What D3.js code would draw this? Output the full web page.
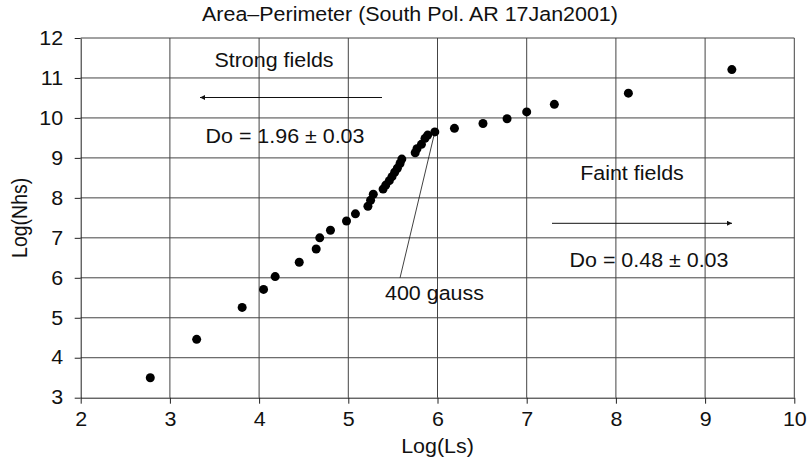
<!DOCTYPE html>
<html>
<head>
<meta charset="utf-8">
<script src="https://cdn.jsdelivr.net/npm/d3@7"></script>
<style>
  body { margin: 0; background: #fff; }
  text { font-family: "Liberation Sans", Arial, sans-serif; fill: #111; }
</style>
</head>
<body>
<script>
const width = 809, height = 464;

// Log(Ls) and Log(Nhs)
const logLs  = [2.78, 3.30, 3.81, 4.05, 4.18, 4.45, 4.64, 4.68, 4.80, 4.98,
                5.08, 5.22, 5.25, 5.28, 5.39, 5.42, 5.46, 5.49, 5.52, 5.55,
                5.58, 5.60, 5.75, 5.77, 5.82, 5.86, 5.89, 5.97, 6.19, 6.51,
                6.78, 7.00, 7.31, 8.14, 9.30];
const logNhs = [3.50, 4.46, 5.26, 5.71, 6.03, 6.39, 6.72, 7.00, 7.19, 7.42,
                7.60, 7.79, 7.94, 8.09, 8.22, 8.32, 8.43, 8.53, 8.64, 8.74,
                8.86, 8.97, 9.13, 9.23, 9.34, 9.49, 9.57, 9.65, 9.74, 9.86,
                9.98, 10.15, 10.34, 10.62, 11.21];
const xTicks = [2, 3, 4, 5, 6, 7, 8, 9, 10];
const yTicks = [3, 4, 5, 6, 7, 8, 9, 10, 11, 12];

const fs = 19.5;
const stretch = 1.1;   // the text in the picture is a bit wide

const svg = d3.select('body').append('svg')
  .attr('width', width)
  .attr('height', height);

const x = d3.scaleLinear().domain([2, 10]).range([80.7, 794.3]);
const y = d3.scaleLinear().domain([3, 12]).range([397.7, 38]);

// grid
svg.append('g')
  .selectAll('line')
  .data(xTicks.slice(1))
  .join('line')
  .attr('x1', d => x(d)).attr('x2', d => x(d))
  .attr('y1', y(12)).attr('y2', y(3))
  .attr('stroke', '#444').attr('stroke-width', 1);

svg.append('g')
  .selectAll('line')
  .data(yTicks.slice(1))
  .join('line')
  .attr('x1', x(2)).attr('x2', x(10))
  .attr('y1', d => y(d)).attr('y2', d => y(d))
  .attr('stroke', '#444').attr('stroke-width', 1);

// axes
const xAxis = svg.append('g')
  .attr('transform', `translate(0,${y(3)})`)
  .call(d3.axisBottom(x).tickValues(xTicks).tickSize(6).tickSizeOuter(0));
const yAxis = svg.append('g')
  .attr('transform', `translate(${x(2)},0)`)
  .call(d3.axisLeft(y).tickValues(yTicks).tickSize(6).tickSizeOuter(0));

[xAxis, yAxis].forEach(a => {
  a.select('.domain').attr('stroke', '#222');
  a.selectAll('.tick line').attr('stroke', '#222');
  a.selectAll('.tick text')
    .style('font-family', '"Liberation Sans", Arial, sans-serif')
    .style('font-size', fs + 'px')
    .attr('fill', '#111');
});
xAxis.selectAll('.tick text').attr('y', 14).attr('transform', `scale(${stretch},1)`);
yAxis.selectAll('.tick text').attr('x', -16).attr('transform', `scale(${stretch},1)`);

// wide text helper
function label(txt, cx, cy, anchor) {
  svg.append('text')
    .attr('transform', `translate(${cx},${cy}) scale(${stretch},1)`)
    .attr('text-anchor', anchor || 'middle')
    .style('font-size', fs + 'px')
    .text(txt);
}

label('Area\u2013Perimeter (South Pol. AR 17Jan2001)', 410, 21);
label('Log(Ls)', x(6), 453);

svg.append('text')
  .attr('transform', `translate(27,${(y(3) + y(12)) / 2}) rotate(-90) scale(1,${stretch})`)
  .attr('text-anchor', 'middle')
  .style('font-size', fs + 'px')
  .text('Log(Nhs)');

// arrows
const defs = svg.append('defs');
defs.append('marker')
  .attr('id', 'head')
  .attr('viewBox', '0 0 10 10')
  .attr('refX', 10).attr('refY', 5)
  .attr('markerWidth', 7).attr('markerHeight', 5)
  .attr('markerUnits', 'userSpaceOnUse')
  .attr('orient', 'auto')
  .append('path').attr('d', 'M0,0 L10,5 L0,10 Z').attr('fill', '#111');

svg.append('line')
  .attr('x1', 382).attr('y1', 97.5).attr('x2', 200).attr('y2', 97.5)
  .attr('stroke', '#111').attr('marker-end', 'url(#head)');
svg.append('line')
  .attr('x1', 552).attr('y1', 223.3).attr('x2', 732).attr('y2', 223.3)
  .attr('stroke', '#111').attr('marker-end', 'url(#head)');

label('Strong fields', 274, 67);
label('Do = 1.96 \u00b1 0.03', 285, 143);
label('Faint fields', 632, 180);
label('Do = 0.48 \u00b1 0.03', 649, 267);

// 400 gauss pointer
svg.append('line')
  .attr('x1', x(5.97)).attr('y1', y(9.65))
  .attr('x2', x(5.58)).attr('y2', y(6.0))
  .attr('stroke', '#111').attr('stroke-width', 0.8);
label('400 gauss', 385, 300, 'start');

// points
svg.append('g')
  .selectAll('circle')
  .data(d3.zip(logLs, logNhs))
  .join('circle')
  .attr('cx', d => x(d[0]))
  .attr('cy', d => y(d[1]))
  .attr('r', 4.5)
  .attr('fill', '#000');
</script>
</body>
</html>
